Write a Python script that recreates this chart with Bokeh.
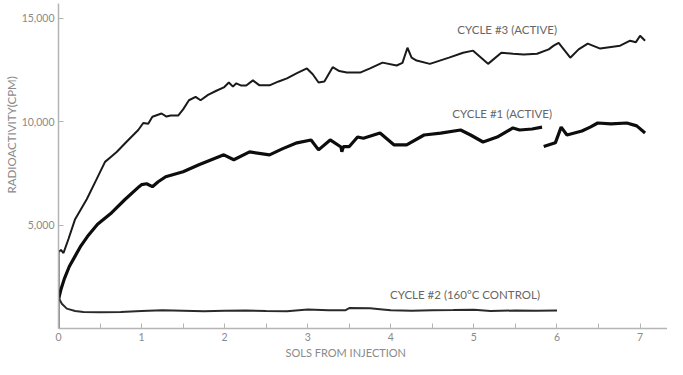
from bokeh.plotting import figure
from bokeh.models import Label, FixedTicker, NumeralTickFormatter, Range1d, Title
from bokeh.embed import file_html
from bokeh.resources import INLINE

# ---- data ----
cycle3_sols = [0.00, 0.00, 0.03, 0.06, 0.12, 0.20, 0.34, 0.45, 0.56, 0.63, 0.70, 0.84, 0.96, 1.02, 1.08,
               1.13, 1.24, 1.30, 1.35, 1.44, 1.50, 1.57, 1.65, 1.71, 1.80, 1.90, 1.99, 2.05, 2.10,
               2.14, 2.20, 2.26, 2.34, 2.42, 2.54, 2.65, 2.75, 2.87, 2.99, 3.06, 3.13, 3.20, 3.30,
               3.38, 3.47, 3.63, 3.75, 3.90, 4.07, 4.14, 4.20, 4.25, 4.31, 4.47, 4.70, 4.87, 4.99,
               5.17, 5.33, 5.47, 5.60, 5.76, 5.90, 5.96, 6.02, 6.16, 6.26, 6.37, 6.52, 6.76, 6.88,
               6.95, 7.00, 7.06]
cycle3_cpm = [0, 3700, 3800, 3650, 4330, 5290, 6250, 7150, 8060, 8300, 8540, 9120, 9600, 9940, 9900,
              10240, 10400, 10250, 10300, 10300, 10600, 11040, 11200, 11040, 11300, 11500, 11660, 11900, 11700,
              11860, 11750, 11750, 12000, 11760, 11760, 11950, 12100, 12350, 12580, 12300, 11900, 11950, 12640,
              12450, 12380, 12380, 12580, 12860, 12720, 12850, 13580, 13100, 12960, 12800, 13100, 13340, 13440,
              12800, 13340, 13290, 13250, 13290, 13500, 13680, 13820, 13100, 13500, 13780, 13540, 13680, 13920,
              13850, 14160, 13920]

cycle1_sols = [0.00, 0.03, 0.07, 0.13, 0.20, 0.27, 0.35, 0.47, 0.64, 0.80, 0.97, 1.00, 1.06, 1.13, 1.20,
               1.29, 1.50, 1.69, 1.84, 1.99, 2.11, 2.30, 2.54, 2.70, 2.87, 3.04, 3.13, 3.27, 3.40, 3.41,
               3.43, 3.50, 3.60, 3.67, 3.87, 4.04, 4.19, 4.40, 4.60, 4.84, 4.96, 5.11, 5.28, 5.47, 5.55,
               5.70, 5.82, 5.83, 5.84, 5.98, 6.05, 6.12, 6.30, 6.40, 6.49, 6.65, 6.84, 6.96, 7.06]
cycle1_cpm = [1400, 1900, 2400, 3000, 3500, 4000, 4460, 5040, 5600, 6240, 6860, 6960, 7000, 6860, 7100,
              7340, 7580, 7920, 8160, 8400, 8160, 8540, 8400, 8700, 8980, 9120, 8640, 9120, 8780, 8550,
              8800, 8800, 9260, 9200, 9460, 8880, 8880, 9360, 9450, 9600, 9360, 9020, 9260, 9700, 9600,
              9650, 9740, float("nan"), 8800, 8980, 9740, 9360, 9550, 9740, 9940, 9900, 9940, 9800, 9460]

cycle2_sols = [0.00, 0.04, 0.10, 0.20, 0.30, 0.50, 0.75, 1.00, 1.25, 1.50, 1.75, 2.00, 2.25, 2.50, 2.75,
               3.00, 3.25, 3.45, 3.50, 3.75, 3.90, 4.00, 4.25, 4.50, 4.75, 5.00, 5.20, 5.50, 5.75, 6.00]
cycle2_cpm = [1500, 1200, 960, 850, 800, 790, 800, 850, 880, 860, 830, 860, 870, 850, 840,
              920, 880, 880, 990, 980, 920, 880, 860, 880, 890, 910, 850, 870, 860, 870]

x_ticks = [0, 1, 2, 3, 4, 5, 6, 7]
x_minor = [0.5, 1.5, 2.5, 3.5, 4.5, 5.5, 6.5]
y_ticks = [5000, 10000, 15000]

series_labels = ["CYCLE #3 (ACTIVE)", "CYCLE #1 (ACTIVE)", "CYCLE #2 (160°C CONTROL)"]

FONT = "Lato"
GREY = "#8a8a8a"

p = figure(width=667, height=359, output_backend="svg", toolbar_location=None,
           x_range=Range1d(0, 7.33), y_range=Range1d(0, 15720),
           min_border_left=58, min_border_right=0, min_border_top=3, min_border_bottom=29)
p.title.visible = False
p.outline_line_color = None
p.grid.visible = False

p.line(cycle3_sols, cycle3_cpm, line_color="#1a1a1a", line_width=2)
p.line(cycle1_sols, cycle1_cpm, line_color="#0d0d0d", line_width=3.2)
p.line(cycle2_sols, cycle2_cpm, line_color="#2a2a2a", line_width=2)

for ax in (p.xaxis[0], p.yaxis[0]):
    ax.axis_line_color = "#b5b5b5"
    ax.axis_line_width = 1.5
    ax.major_tick_line_color = "#b5b5b5"
    ax.minor_tick_line_color = "#b5b5b5"
    ax.major_tick_in = 5
    ax.major_tick_out = 0
    ax.major_label_text_color = GREY
    ax.major_label_text_font = FONT
    ax.major_label_text_font_size = "10.5px"

p.xaxis.ticker = FixedTicker(ticks=x_ticks, minor_ticks=x_minor)
p.xaxis.minor_tick_in = 5
p.xaxis.minor_tick_out = 0
p.xaxis.major_label_standoff = 4

p.yaxis.ticker = FixedTicker(ticks=y_ticks)
p.yaxis.minor_tick_in = 0
p.yaxis.minor_tick_out = 0
p.yaxis.formatter = NumeralTickFormatter(format="0,0")
p.yaxis.major_label_standoff = 4

p.add_layout(Title(text="RADIOACTIVITY(CPM)", align="left", offset=135, standoff=2,
                   text_font=FONT, text_font_size="11.5px", text_font_style="normal",
                   text_color=GREY), "left")
p.add_layout(Title(text="SOLS FROM INJECTION", align="left", offset=227, standoff=1,
                   text_font=FONT, text_font_size="11px", text_font_style="normal",
                   text_color=GREY), "below")

label_pos = [(4.80, 14470), (4.74, 10385), (3.99, 1635)]
for txt, (lx, ly) in zip(series_labels, label_pos):
    p.add_layout(Label(x=lx, y=ly, text=txt, text_align="left", text_baseline="middle",
                       text_font=FONT, text_font_size="11.5px", text_color="#666666"))

open("out.html", "w").write(file_html(p, INLINE))
